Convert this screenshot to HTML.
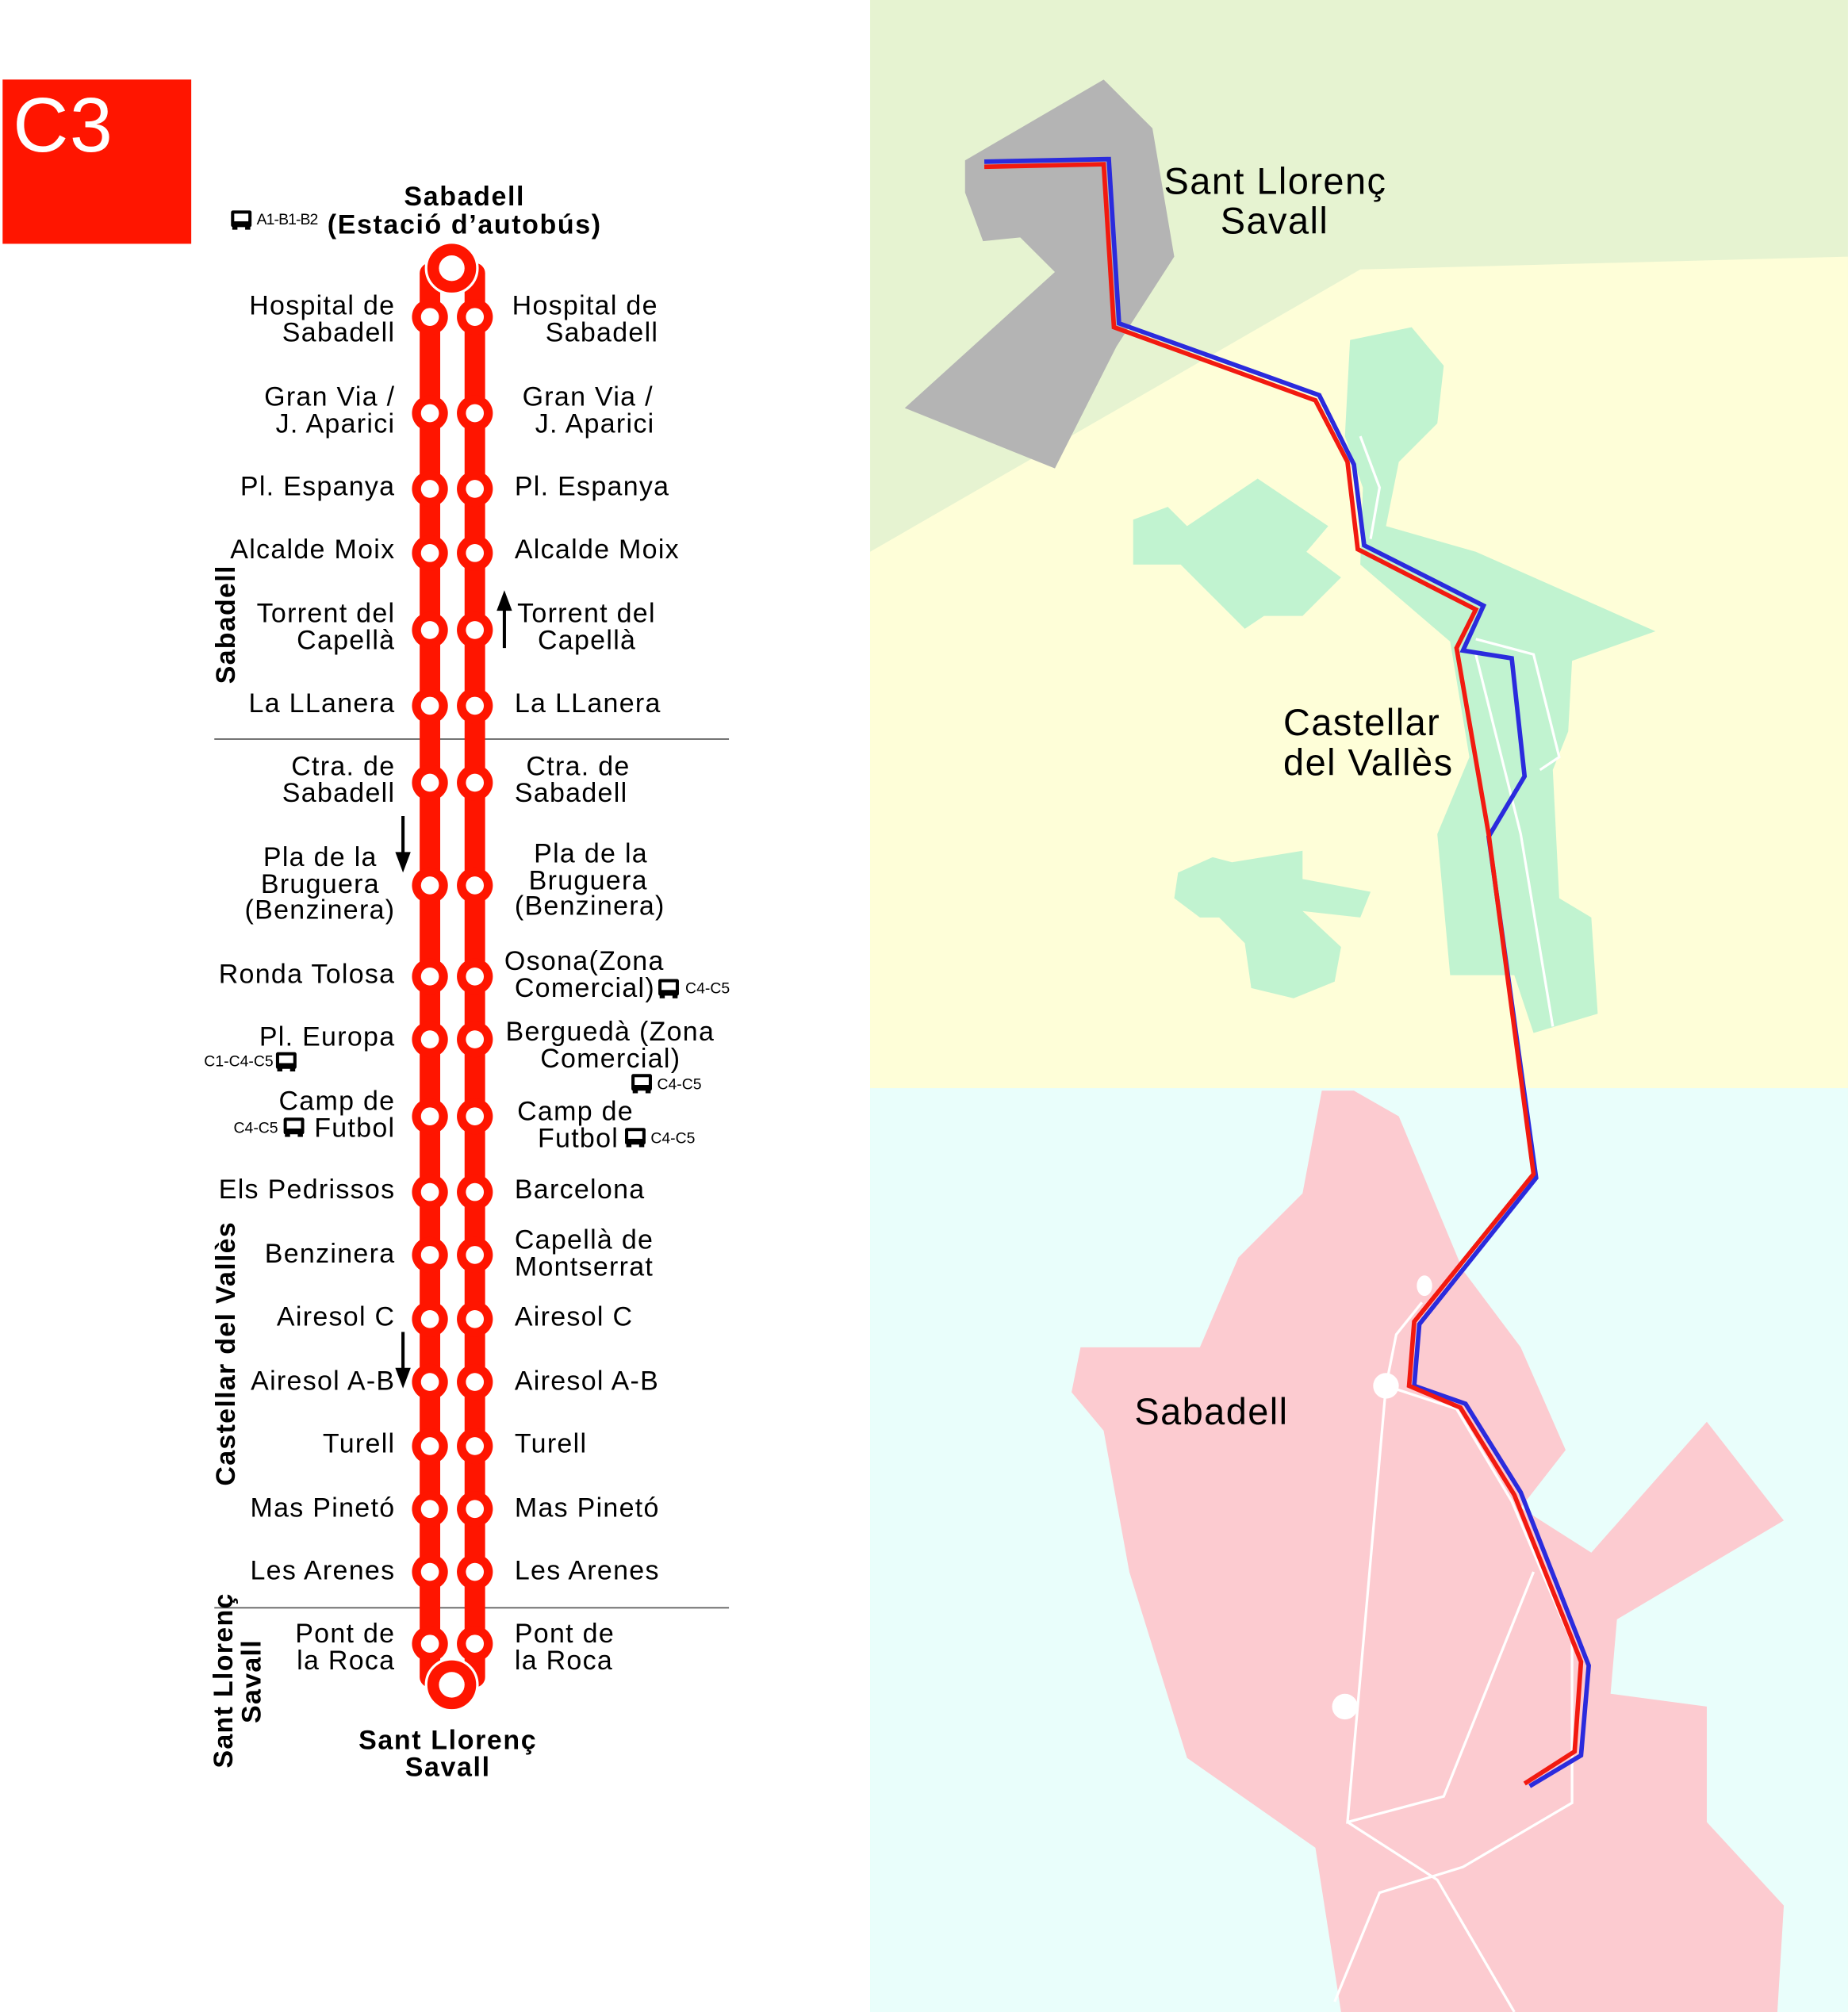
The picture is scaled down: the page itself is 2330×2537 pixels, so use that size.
<!DOCTYPE html>
<html><head><meta charset="utf-8"><style>
html,body{margin:0;padding:0;background:#fff}
svg{display:block}
text{font-family:"Liberation Sans",sans-serif;fill:#000}
</style></head><body>
<svg width="2330" height="2537" viewBox="0 0 1440 1568" xmlns="http://www.w3.org/2000/svg">
<defs>
<g id="bus"><rect x="0" y="0" width="16" height="13" rx="1.5" fill="#000"/><rect x="2.5" y="2.5" width="11" height="6" fill="#fff"/><rect x="1" y="12" width="4" height="3" fill="#000"/><rect x="11" y="12" width="4" height="3" fill="#000"/></g>
</defs>
<rect x="678" y="0" width="762" height="1568" fill="#e6f3d1"/>
<polygon points="678,430 1060,210 1440,200 1440,848 678,848" fill="#fefed8"/>
<rect x="678" y="848" width="762" height="720" fill="#e9fefb"/>
<polygon points="752,125 860,62 898,100 915,200 870,270 822,365 705,318 822,212 795,185 766,188 752,150" fill="#b4b4b4"/>
<g fill="#c1f3d0">
<polygon points="1052,265 1100,255 1125,285 1120,330 1090,360 1080,410 1150,430 1290,492 1225,515 1222,570 1210,600 1215,700 1240,715 1245,790 1195,805 1180,760 1130,760 1120,650 1145,590 1130,500 1060,440 1062,380 1048,340"/>
<polygon points="883,405 910,395 925,410 980,373 1035,410 1018,430 1045,450 1015,480 985,480 970,490 920,440 883,440"/>
<polygon points="918,680 945,668 960,672 1015,663 1015,685 1068,695 1060,715 1015,710 1045,738 1040,765 1008,778 975,770 970,735 950,715 935,715 915,700"/>
</g>
<polygon points="1030,850 1055,850 1090,870 1140,990 1185,1050 1220,1130 1185,1175 1240,1210 1330,1108 1390,1185 1260,1262 1255,1320 1330,1330 1330,1420 1390,1485 1385,1568 1045,1568 1025,1440 925,1370 880,1225 860,1115 835,1085 842,1050 935,1050 965,980 1015,930" fill="#fccbd0"/>
<g stroke="#fff" stroke-width="2" fill="none">
<polyline points="1060,340 1075,380 1068,420"/>
<polyline points="1150,498 1195,510 1215,590 1200,600"/>
<polyline points="1150,510 1185,650 1210,800"/>
<polyline points="1080,1080 1088,1040 1108,1015"/>
<polyline points="1080,1080 1050,1420 1125,1400 1195,1225"/>
<polyline points="1080,1080 1135,1098 1178,1170 1225,1280 1225,1405 1140,1455 1075,1475 1040,1560"/>
<polyline points="1050,1420 1120,1465 1180,1568"/>
</g>
<circle cx="1080" cy="1080" r="10" fill="#fff"/>
<circle cx="1048" cy="1330" r="10" fill="#fff"/>
<ellipse cx="1110" cy="1002" rx="6" ry="8" fill="#fff"/>
<polyline points="767,126 864,124 872,252 1028,308 1055,362 1063,425 1156,472 1140,507 1178,513 1188,605 1160,652 1197,918 1106,1032 1102,1080 1142,1094 1185,1163 1238,1298 1232,1368 1192,1392" fill="none" stroke="#2b2bdd" stroke-width="3.5"/>
<polyline points="767,130 860,128 868,255 1025,312 1050,360 1058,428 1150,475 1135,505 1160,650 1195,915 1102,1030 1098,1080 1138,1097 1180,1165 1232,1295 1227,1365 1188,1390" fill="none" stroke="#f21a10" stroke-width="3.5"/>
<g font-size="29" letter-spacing="0.9">
<text x="907" y="151">Sant Llorenç</text>
<text x="951" y="182">Savall</text>
<text x="1000" y="573">Castellar</text>
<text x="1000" y="604">del Vallès</text>
<text x="884" y="1110">Sabadell</text>
</g>
<rect x="2" y="62" width="147" height="128" fill="#ff1500"/>
<text x="10" y="118" font-size="60" style="fill:#fff" letter-spacing="1">C3</text>
<line x1="167" y1="576" x2="568" y2="576" stroke="#666" stroke-width="1.2"/>
<line x1="167" y1="1253" x2="568" y2="1253" stroke="#666" stroke-width="1.2"/>
<g fill="#ff1500">
<rect x="327" y="205" width="16" height="1110" rx="8"/>
<rect x="362" y="205" width="16" height="1110" rx="8"/>
</g>
<g fill="#ff1500">
<circle cx="335" cy="247" r="14"/><circle cx="370" cy="247" r="14"/>
<circle cx="335" cy="322" r="14"/><circle cx="370" cy="322" r="14"/>
<circle cx="335" cy="381" r="14"/><circle cx="370" cy="381" r="14"/>
<circle cx="335" cy="431" r="14"/><circle cx="370" cy="431" r="14"/>
<circle cx="335" cy="491" r="14"/><circle cx="370" cy="491" r="14"/>
<circle cx="335" cy="550" r="14"/><circle cx="370" cy="550" r="14"/>
<circle cx="335" cy="610" r="14"/><circle cx="370" cy="610" r="14"/>
<circle cx="335" cy="690" r="14"/><circle cx="370" cy="690" r="14"/>
<circle cx="335" cy="761" r="14"/><circle cx="370" cy="761" r="14"/>
<circle cx="335" cy="810" r="14"/><circle cx="370" cy="810" r="14"/>
<circle cx="335" cy="870" r="14"/><circle cx="370" cy="870" r="14"/>
<circle cx="335" cy="929" r="14"/><circle cx="370" cy="929" r="14"/>
<circle cx="335" cy="978" r="14"/><circle cx="370" cy="978" r="14"/>
<circle cx="335" cy="1028" r="14"/><circle cx="370" cy="1028" r="14"/>
<circle cx="335" cy="1077" r="14"/><circle cx="370" cy="1077" r="14"/>
<circle cx="335" cy="1127" r="14"/><circle cx="370" cy="1127" r="14"/>
<circle cx="335" cy="1176" r="14"/><circle cx="370" cy="1176" r="14"/>
<circle cx="335" cy="1225" r="14"/><circle cx="370" cy="1225" r="14"/>
<circle cx="335" cy="1281" r="14"/><circle cx="370" cy="1281" r="14"/>
</g>
<g fill="#fff">
<circle cx="335" cy="247" r="7"/><circle cx="370" cy="247" r="7"/>
<circle cx="335" cy="322" r="7"/><circle cx="370" cy="322" r="7"/>
<circle cx="335" cy="381" r="7"/><circle cx="370" cy="381" r="7"/>
<circle cx="335" cy="431" r="7"/><circle cx="370" cy="431" r="7"/>
<circle cx="335" cy="491" r="7"/><circle cx="370" cy="491" r="7"/>
<circle cx="335" cy="550" r="7"/><circle cx="370" cy="550" r="7"/>
<circle cx="335" cy="610" r="7"/><circle cx="370" cy="610" r="7"/>
<circle cx="335" cy="690" r="7"/><circle cx="370" cy="690" r="7"/>
<circle cx="335" cy="761" r="7"/><circle cx="370" cy="761" r="7"/>
<circle cx="335" cy="810" r="7"/><circle cx="370" cy="810" r="7"/>
<circle cx="335" cy="870" r="7"/><circle cx="370" cy="870" r="7"/>
<circle cx="335" cy="929" r="7"/><circle cx="370" cy="929" r="7"/>
<circle cx="335" cy="978" r="7"/><circle cx="370" cy="978" r="7"/>
<circle cx="335" cy="1028" r="7"/><circle cx="370" cy="1028" r="7"/>
<circle cx="335" cy="1077" r="7"/><circle cx="370" cy="1077" r="7"/>
<circle cx="335" cy="1127" r="7"/><circle cx="370" cy="1127" r="7"/>
<circle cx="335" cy="1176" r="7"/><circle cx="370" cy="1176" r="7"/>
<circle cx="335" cy="1225" r="7"/><circle cx="370" cy="1225" r="7"/>
<circle cx="335" cy="1281" r="7"/><circle cx="370" cy="1281" r="7"/>
</g>
<circle cx="352" cy="209" r="20" fill="#ff1500" stroke="#fff" stroke-width="2"/>
<circle cx="352" cy="209" r="10" fill="#fff"/>
<circle cx="352" cy="1313" r="20" fill="#ff1500" stroke="#fff" stroke-width="2"/>
<circle cx="352" cy="1313" r="10" fill="#fff"/>
<g font-size="21" font-weight="bold" text-anchor="middle" letter-spacing="1">
<text x="362" y="160">Sabadell</text>
<text x="362" y="182">(Estació d’autobús)</text>
<text x="349" y="1363">Sant Llorenç</text>
<text x="349" y="1384">Savall</text>
</g>
<use href="#bus" x="180" y="164"/>
<text x="200" y="175" font-size="12" textLength="48">A1-B1-B2</text>
<g font-size="21" text-anchor="end" letter-spacing="0.8">
<text x="308" y="245">Hospital de</text><text x="308" y="266">Sabadell</text>
<text x="308" y="316">Gran Via /</text><text x="308" y="337">J. Aparici</text>
<text x="308" y="386">Pl. Espanya</text>
<text x="308" y="435">Alcalde Moix</text>
<text x="308" y="485">Torrent del</text><text x="308" y="506">Capellà</text>
<text x="308" y="555">La LLanera</text>
<text x="308" y="604">Ctra. de</text><text x="308" y="625">Sabadell</text>
<text x="294" y="675">Pla de la</text><text x="296" y="696">Bruguera</text><text x="308" y="716">(Benzinera)</text>
<text x="308" y="766">Ronda Tolosa</text>
<text x="308" y="815">Pl. Europa</text>
<text x="308" y="865">Camp de</text><text x="308" y="886">Futbol</text>
<text x="308" y="934">Els Pedrissos</text>
<text x="308" y="984">Benzinera</text>
<text x="308" y="1033">Airesol C</text>
<text x="308" y="1083">Airesol A-B</text>
<text x="308" y="1132">Turell</text>
<text x="308" y="1182">Mas Pinetó</text>
<text x="308" y="1231">Les Arenes</text>
<text x="308" y="1280">Pont de</text><text x="308" y="1301">la Roca</text>
</g>
<g font-size="21" letter-spacing="0.8">
<text x="399" y="245">Hospital de</text><text x="425" y="266">Sabadell</text>
<text x="407" y="316">Gran Via /</text><text x="417" y="337">J. Aparici</text>
<text x="401" y="386">Pl. Espanya</text>
<text x="401" y="435">Alcalde Moix</text>
<text x="403" y="485">Torrent del</text><text x="419" y="506">Capellà</text>
<text x="401" y="555">La LLanera</text>
<text x="410" y="604">Ctra. de</text><text x="401" y="625">Sabadell</text>
<text x="416" y="672">Pla de la</text><text x="412" y="693">Bruguera</text><text x="401" y="713">(Benzinera)</text>
<text x="393" y="756">Osona(Zona</text><text x="401" y="777">Comercial)</text>
<text x="394" y="811">Berguedà (Zona</text><text x="421" y="832">Comercial)</text>
<text x="403" y="873">Camp de</text><text x="419" y="894">Futbol</text>
<text x="401" y="934">Barcelona</text>
<text x="401" y="973">Capellà de</text><text x="401" y="994">Montserrat</text>
<text x="401" y="1033">Airesol C</text>
<text x="401" y="1083">Airesol A-B</text>
<text x="401" y="1132">Turell</text>
<text x="401" y="1182">Mas Pinetó</text>
<text x="401" y="1231">Les Arenes</text>
<text x="401" y="1280">Pont de</text><text x="401" y="1301">la Roca</text>
</g>
<g font-size="12">
<use href="#bus" x="513" y="763"/><text x="534" y="774">C4-C5</text>
<use href="#bus" x="215" y="820"/><text x="159" y="831">C1-C4-C5</text>
<use href="#bus" x="492" y="837"/><text x="512" y="849">C4-C5</text>
<use href="#bus" x="221" y="871"/><text x="182" y="883">C4-C5</text>
<use href="#bus" x="487" y="879"/><text x="507" y="891">C4-C5</text>
</g>
<g stroke="#000" stroke-width="2.5">
<line x1="393" y1="505" x2="393" y2="470"/>
<line x1="314" y1="636" x2="314" y2="670"/>
<line x1="314" y1="1038" x2="314" y2="1072"/>
</g>
<g fill="#000">
<polygon points="387,476 393,460 399,476"/>
<polygon points="308,664 314,680 320,664"/>
<polygon points="308,1066 314,1082 320,1066"/>
</g>
<g font-size="21" font-weight="bold" letter-spacing="0.8">
<text transform="translate(183,533) rotate(-90)">Sabadell</text>
<text transform="translate(183,1158) rotate(-90)">Castellar del Vallès</text>
<text transform="translate(181,1378) rotate(-90)">Sant Llorenç</text>
<text transform="translate(203,1343) rotate(-90)">Savall</text>
</g>
</svg>
</body></html>
